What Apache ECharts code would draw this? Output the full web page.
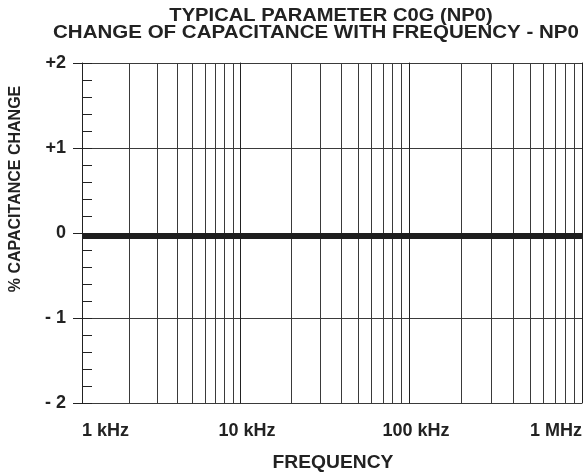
<!DOCTYPE html>
<html>
<head>
<meta charset="utf-8">
<script src="https://cdn.jsdelivr.net/npm/echarts@6/dist/echarts.min.js"></script>
<style>
  html, body { margin: 0; padding: 0; background: #fff; }
  #main { width: 586px; height: 474px; }
</style>
</head>
<body>
<div id="main"></div>
<script>
// data (frequency in kHz, % change)
const freqKHz = [1, 10, 100, 1000];
const capChange = [-0.035, -0.035, -0.035, -0.035];

// axis ticks
const xTickValues = [1, 10, 100, 1000];
const xTickLabels = ['1 kHz', '10 kHz', '100 kHz', '1 MHz'];
const yTickValues = [-2, -1, 0, 1, 2];
const yTickLabels = ['- 2', '- 1', '0', '+1', '+2'];
// log grid lines inside each decade
const gridFreqs = [2, 3, 4, 5, 6, 7, 8, 9, 20, 30, 40, 50, 60, 70, 80, 90, 200, 300, 400, 500, 600, 700, 800, 900];

const FONT = '"Liberation Sans", Arial, sans-serif';
const INK = '#222';
const GRIDC = '#3a3a3a';

// the scanned plot has slightly unequal decades, so one grid per decade
const decades = [[1, 10], [10, 100], [100, 1000]];
const gridLeft = [82, 240, 409];
const gridWidth = [158, 169, 173];

function xLabel(v) {
  for (let i = 0; i < xTickValues.length; i++) {
    if (Math.abs(v - xTickValues[i]) < 1e-6 * xTickValues[i]) return xTickLabels[i];
  }
  return '';
}
function yLabel(v) {
  const i = yTickValues.indexOf(Math.round(v));
  return i >= 0 ? yTickLabels[i] : '';
}

const grid = decades.map((d, i) => ({ left: gridLeft[i], width: gridWidth[i], top: 63, height: 340 }));

const xAxis = decades.map((d, i) => ({
  type: 'log', logBase: 10, gridIndex: i, min: d[0], max: d[1],
  axisLine: { show: true, lineStyle: { color: INK, width: 1 } },
  axisTick: { show: true, length: 10, lineStyle: { color: INK } },
  splitLine: { show: false },
  axisLabel: {
    formatter: xLabel, margin: 19,
    color: INK, fontFamily: FONT, fontWeight: 'bold', fontSize: 18,
    showMinLabel: true, showMaxLabel: i === 2,
    alignMinLabel: i === 0 ? 'left' : 'center',
    alignMaxLabel: 'right',
    padding: i === 0 ? [0, 0, 0, 0] : [0, 0, 0, 14]
  }
}));

const yBase = { type: 'value', min: -2, max: 2 };
const yAxis = [
  // 0: labels + outward ticks
  Object.assign({}, yBase, {
    gridIndex: 0, position: 'left', interval: 1,
    axisLine: { show: true, lineStyle: { color: INK } },
    axisTick: { show: true, length: 9, lineStyle: { color: INK } },
    splitLine: { show: true, lineStyle: { color: GRIDC, width: 1 } },
    axisLabel: { formatter: yLabel, margin: 16, color: INK, fontFamily: FONT, fontWeight: 'bold', fontSize: 18 }
  }),
  // 1: minor ticks pointing inward
  Object.assign({}, yBase, {
    gridIndex: 0, position: 'left', offset: 0, interval: 0.2,
    axisLine: { show: false },
    axisTick: { show: true, inside: true, length: 10, lineStyle: { color: INK } },
    splitLine: { show: false },
    axisLabel: { show: false }
  }),
  // 2: decade 2
  Object.assign({}, yBase, {
    gridIndex: 1, position: 'left', interval: 1,
    axisLine: { show: true, lineStyle: { color: INK } },
    axisTick: { show: false }, axisLabel: { show: false },
    splitLine: { show: true, lineStyle: { color: GRIDC, width: 1 } }
  }),
  // 3: decade 3
  Object.assign({}, yBase, {
    gridIndex: 2, position: 'left', interval: 1,
    axisLine: { show: true, lineStyle: { color: INK } },
    axisTick: { show: false }, axisLabel: { show: false },
    splitLine: { show: true, lineStyle: { color: GRIDC, width: 1 } }
  }),
  // 4: right border
  Object.assign({}, yBase, {
    gridIndex: 2, position: 'right', interval: 1,
    axisLine: { show: true, lineStyle: { color: INK } },
    axisTick: { show: false }, axisLabel: { show: false }, splitLine: { show: false }
  })
];

const series = decades.map((d, i) => {
  const pts = [];
  freqKHz.forEach((f, k) => { if (f >= d[0] && f <= d[1]) pts.push([f, capChange[k]]); });
  return {
    type: 'line', xAxisIndex: i, yAxisIndex: [0, 2, 3][i],
    data: pts, symbol: 'none', silent: true,
    lineStyle: { color: '#1e1e1e', width: 6, cap: 'butt' },
    markLine: {
      silent: true, symbol: ['none', 'none'], label: { show: false },
      lineStyle: { color: GRIDC, width: 1, type: 'solid' },
      data: gridFreqs.filter(f => f > d[0] && f < d[1]).map(f => ({ xAxis: f })),
      z: 1
    },
    z: 5
  };
});

const textStyle = { fill: INK, fontFamily: FONT, fontWeight: 'bold', textAlign: 'center', textVerticalAlign: 'middle' };

const option = {
  animation: false,
  backgroundColor: '#fff',
  grid: grid,
  xAxis: xAxis,
  yAxis: yAxis,
  series: series,
  graphic: [
    { type: 'text', x: 331, y: 16, scaleX: 1.12, style: Object.assign({ text: 'TYPICAL PARAMETER C0G (NP0)', fontSize: 18 }, textStyle) },
    { type: 'text', x: 316, y: 33, scaleX: 1.14, style: Object.assign({ text: 'CHANGE OF CAPACITANCE WITH FREQUENCY - NP0', fontSize: 18 }, textStyle) },
    { type: 'text', x: 333, y: 463, scaleX: 1.07, style: Object.assign({ text: 'FREQUENCY', fontSize: 18 }, textStyle) },
    { type: 'text', x: 16, y: 189, rotation: Math.PI / 2, style: Object.assign({ text: '% CAPACITANCE CHANGE', fontSize: 16 }, textStyle) }
  ]
};

var myChart = echarts.init(document.getElementById('main'));
myChart.setOption(option);
</script>
</body>
</html>
